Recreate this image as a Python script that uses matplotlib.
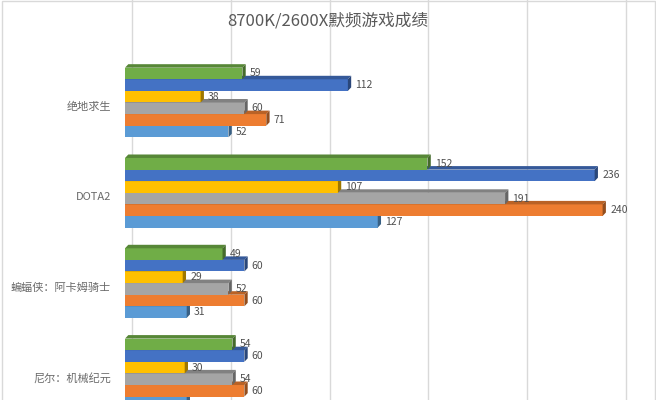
import numpy as np
import matplotlib
matplotlib.use("Agg")
import matplotlib.pyplot as plt
from matplotlib.patches import Polygon, Rectangle
from matplotlib.transforms import ScaledTranslation
from matplotlib.colors import to_rgb

plt.rcParams['font.family'] = ['Noto Sans CJK SC', 'DejaVu Sans']

title = '8700K/2600X默频游戏成绩'
games = ['绝地求生', 'DOTA2', '蝙蝠侠：阿卡姆骑士', '尼尔：机械纪元']

# series listed top to bottom inside each group
green = [59, 152, 49, 54]
blue = [112, 236, 60, 60]
gold = [38, 107, 29, 30]
gray = [60, 191, 52, 54]
orange = [71, 240, 60, 60]
lightblue = [52, 127, 31, 31]

series = [green, blue, gold, gray, orange, lightblue]
colors = ['#70AD47', '#4472C4', '#FFC000', '#A5A5A5', '#ED7D31', '#5B9BD5']
grid_ticks = [0, 50, 100, 150, 200, 250]


def shade(c, f):
    r, g, b = to_rgb(c)
    return (r * f, g * f, b * f)


fig = plt.figure(figsize=(6.56, 4.0), dpi=100)
W, H = 656, 400

# plot area in pixels: value 0 at x=125
x0_px = 125
px_per_unit = 1.99
wall_scale = 1.976 / px_per_unit  # back wall is a touch narrower
xmax = 260
top_px, bottom_px = 53, 440
pitch = 90.3
first_center = 102.5
ytop = -(first_center - top_px) / pitch
ybot = (bottom_px - first_center) / pitch

ax = fig.add_axes([x0_px / W, (H - bottom_px) / H,
                   xmax * px_per_unit / W, (bottom_px - top_px) / H])
ax.set_xlim(0, xmax)
ax.set_ylim(ybot, ytop)
ax.axis('off')

# back wall gridlines, shifted by the 3D depth
wall = ax.get_xaxis_transform() + ScaledTranslation(7 / 100, 3 / 100, fig.dpi_scale_trans)
for t in grid_ticks:
    ax.plot([t * wall_scale] * 2, [0, 1.2], color='#d9d9d9', lw=1.0, transform=wall,
            clip_on=False, zorder=0)

n = len(series)
group = 0.771
h = group / n
dx = 3.3 / px_per_unit
dy = 3.5 / pitch

y_idx = np.arange(len(games))
# draw bottom bar first so the bar above hides its top face
for j in reversed(range(n)):
    vals = series[j]
    yc = y_idx - group / 2 + h * (j + 0.5)
    c = colors[j]
    ax.barh(yc, vals, height=h, color=c, edgecolor='none', zorder=2 + (n - j))
    for v, y in zip(vals, yc):
        top, bot = y - h / 2, y + h / 2
        ax.add_patch(Polygon([(0, top), (v, top), (v + dx, top - dy), (dx, top - dy)],
                             closed=True, facecolor=shade(c, 0.78), edgecolor='none',
                             zorder=2 + (n - j)))
        ax.add_patch(Polygon([(v, top), (v, bot), (v + dx, bot - dy), (v + dx, top - dy)],
                             closed=True, facecolor=shade(c, 0.62), edgecolor='none',
                             zorder=2 + (n - j)))
        # the bottom row of the last group falls outside the picture
        if first_center + y * pitch > H - 4:
            continue
        ax.annotate(str(v), (v + dx, y), xytext=(3, 0), textcoords='offset points',
                    va='center', ha='left', fontsize=7.5, color='#505050', zorder=20)

# category labels, a little below the group centre like the 3D floor
lab = ax.get_yaxis_transform() + ScaledTranslation(-14 / 100, -4.5 / 100, fig.dpi_scale_trans)
for i, g in enumerate(games):
    ax.text(0, i, g, transform=lab, ha='right', va='center', fontsize=8,
            color='#6a6a6a')

fig.text(0.5, 1 - 21 / H, title, ha='center', va='center', fontsize=12, color='#595959')

fig.patches.append(Rectangle((1.5 / W, -0.1), (W - 3) / W, 1.1 - 1.5 / H,
                             transform=fig.transFigure, fill=False,
                             edgecolor='#d9d9d9', lw=1.0))

fig.savefig('out.png', dpi=100, facecolor='white')
